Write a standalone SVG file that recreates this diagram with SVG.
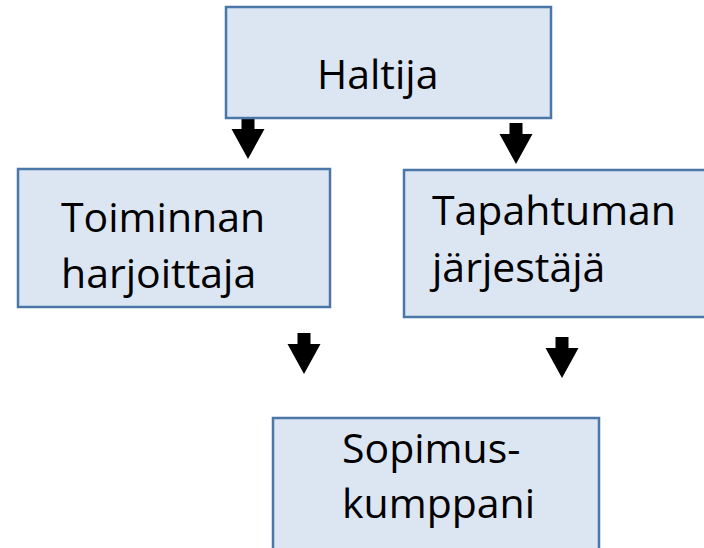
<svg xmlns="http://www.w3.org/2000/svg" width="704" height="548" viewBox="0 0 704 548">
<style>
.box{fill:#DCE6F2;stroke:#4A76A8;stroke-width:2.5}
.t{font-family:"Open Sans","Liberation Sans",sans-serif;font-size:41px;fill:#000}
.arr{fill:#000}
</style>
<rect width="704" height="548" fill="#fff"/>
<g id="connectors">
<path class="arr" d="M241.5,118 h13 v11 h10 l-16.5,30 l-16.5,-30 h10 z"/>
<path class="arr" d="M509.5,123 h13 v11 h10 l-16.5,30 l-16.5,-30 h10 z"/>
<path class="arr" d="M297.5,333 h13 v11 h10 l-16.5,30 l-16.5,-30 h10 z"/>
<path class="arr" d="M555.5,337 h13 v11 h10 l-16.5,30 l-16.5,-30 h10 z"/>
</g>
<g id="haltija">
<rect class="box" x="226" y="7" width="325" height="111"/>
<text class="t" x="317" y="89">Haltija</text>
</g>
<g id="toiminnan">
<rect class="box" x="18" y="169" width="312" height="138"/>
<text class="t" x="61" y="232">Toiminnan</text>
<text class="t" x="61" y="288">harjoittaja</text>
</g>
<g id="tapahtuman">
<rect class="box" x="404" y="170" width="310" height="147"/>
<text class="t" x="432" y="225">Tapahtuman</text>
<text class="t" x="432" y="282">järjestäjä</text>
</g>
<g id="sopimus">
<rect class="box" x="273" y="418" width="326" height="140"/>
<text class="t" x="342" y="463">Sopimus-</text>
<text class="t" x="342" y="518">kumppani</text>
</g>
</svg>
